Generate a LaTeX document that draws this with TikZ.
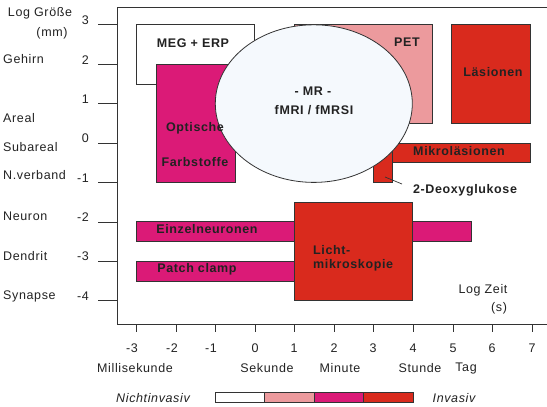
\documentclass[tikz,border=0pt]{standalone}
\usepackage{fontspec}
\setmainfont[LetterSpace=5]{Liberation Sans}
\usetikzlibrary{shapes.geometric}
\definecolor{mag}{HTML}{DB1A77}
\definecolor{rd}{HTML}{D92A1D}
\definecolor{pk}{HTML}{EC9A9D}
\definecolor{ell}{HTML}{F5F9FD}
\definecolor{ln}{HTML}{333333}
\definecolor{tx}{HTML}{222222}
\begin{document}
\begin{tikzpicture}[x=1pt,y=-1pt,
  every node/.style={font=\fontsize{12.5}{15}\selectfont, text=tx, inner sep=0pt},
  lab/.style={font=\fontsize{12.5}{15}\selectfont\bfseries},
  ital/.style={font=\fontsize{12.5}{15}\selectfont\itshape},
  axis/.style={draw=ln, line width=0.9pt},
  boxb/.style={draw=ln, line width=0.8pt}]
\useasboundingbox (0,0) rectangle (547,407);
% frame
\draw[axis] (547,7) -- (117,7) -- (117,324) -- (547,324);
% y ticks
\foreach \yy in {24,64,103,143,182,222,261,300} \draw[axis] (98,\yy) -- (117,\yy);
% x ticks
\foreach \xx in {136,176,215,255,294,334,373,413,453,492,532} \draw[axis] (\xx,324) -- (\xx,332);
% data boxes
\begin{scope}[shift={(254.7,143)}]
\begin{scope}[x=39.4pt,y=39.4pt]
\draw[boxb, fill=white] (-3,3) rectangle (0,1.5);
\draw[boxb, fill=mag] (-2.5,2) rectangle (-0.5,-1);
\draw[boxb, fill=pk] (1,3) rectangle (4.5,0.5);
\draw[boxb, fill=rd] (5,3) rectangle (7,0.5);
\draw[boxb, fill=rd] (3,0) rectangle (7,-0.5);
\draw[boxb, fill=rd] (3,0) rectangle (3.5,-1);
\draw[boxb, fill=mag] (-3,-2) rectangle (5.5,-2.5);
\draw[boxb, fill=mag] (-3,-3) rectangle (1,-3.5);
\draw[boxb, fill=rd] (1,-1.5) rectangle (4,-4);
\node[boxb, fill=ell, ellipse, minimum width=5*39.4pt, minimum height=4*39.4pt] (mr) at (1.5,1) {};
\end{scope}
\end{scope}
% box labels
\node[lab] (meg) at (193,43) {MEG + ERP};
\node[lab] (opt1) at (195,128) {Optische};
\node[lab] (opt2) at (195,162) {Farbstoffe};
\node[lab] (pet) at (407,42) {PET};
\node[lab] (lae) at (493,72) {Läsionen};
\node[lab] (mr1) at (313,91) {- MR -};
\node[lab] (mr2) at (314,110) {fMRI / fMRSI};
\node[lab] (mik) at (459,151) {Mikroläsionen};
\node[lab] (deo) at (465,190) {2-Deoxyglukose};
\coordinate (deoend) at (385,177);
\coordinate (deotip) at (402,184);
\draw[ln, line width=0.7pt] (deoend) -- (deotip);
\node[lab] (ein) at (207,229) {Einzelneuronen};
\node[lab] (pat) at (197,269) {Patch clamp};
\node[lab, anchor=west] (li1) at (313,250) {Licht-};
\node[lab, anchor=west] (li2) at (313,265) {mikroskopie};
% y axis labels
\node (lg1) at (40,13) {Log Größe};
\node (lg2) at (52,33) {(mm)};
\foreach \v/\yy [count=\i] in {3/20,2/60,1/99,0/138,-1/178,-2/217,-3/256,-4/296}
  \node[anchor=east] (yn\i) at (89,\yy) {\v};
\node[anchor=west] (c1) at (3,59) {Gehirn};
\node[anchor=west] (c2) at (3,118) {Areal};
\node[anchor=west] (c3) at (3,147) {Subareal};
\node[anchor=west] (c4) at (3,175) {N.verband};
\node[anchor=west] (c5) at (3,216) {Neuron};
\node[anchor=west] (c6) at (3,256) {Dendrit};
\node[anchor=west] (c7) at (3,296) {Synapse};
% x axis labels
\foreach \v/\xx [count=\i] in {-3/132,-2/172,-1/211,0/255,1/294,2/334,3/373,4/413,5/453,6/492,7/532}
  \node (xn\i) at (\xx,348) {\v};
\node (u1) at (135,368) {Millisekunde};
\node (u2) at (267,368) {Sekunde};
\node (u3) at (340,368) {Minute};
\node (u4) at (420,368) {Stunde};
\node (u5) at (466,368) {Tag};
\node (lz1) at (483,290) {Log Zeit};
\node (lz2) at (499,308) {(s)};
% legend
\node[ital] (ni) at (153,398) {Nichtinvasiv};
\node[ital] (inv) at (454,398) {Invasiv};
\draw[boxb, fill=white] (215,392) rectangle (264,402);
\draw[boxb, fill=pk] (264,392) rectangle (314,402);
\draw[boxb, fill=mag] (314,392) rectangle (363,402);
\draw[boxb, fill=rd] (363,392) rectangle (413,402);
\end{tikzpicture}
\end{document}
